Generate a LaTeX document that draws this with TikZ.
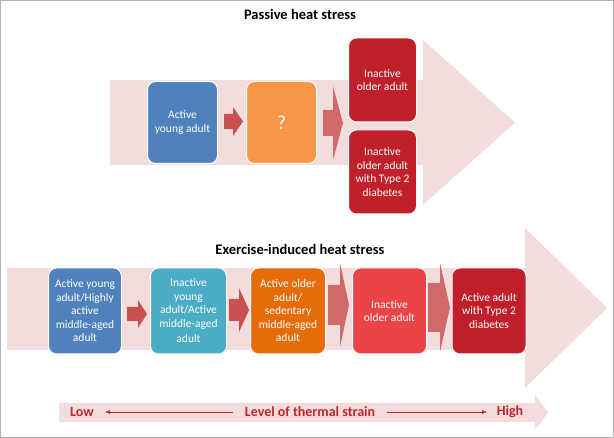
\documentclass[tikz,border=0pt]{standalone}
\usepackage{fontspec}
\setmainfont{Carlito}
\usetikzlibrary{arrows.meta, positioning}
\definecolor{band}{RGB}{242,220,220}
\definecolor{blk}{RGB}{200,80,80}
\definecolor{cblue}{RGB}{79,129,189}
\definecolor{corange}{RGB}{247,150,70}
\definecolor{cred}{RGB}{192,32,42}
\definecolor{cteal}{RGB}{75,172,198}
\definecolor{cdorange}{RGB}{228,108,10}
\definecolor{clred}{RGB}{234,67,72}
\definecolor{txtred}{RGB}{192,39,45}
% block arrow: x start, x head, x tip, shaft top, shaft bottom, head top, head bottom
\newcommand{\blockarrow}[8][band]{%
  \fill[#1] (#2,#5) -- (#3,#5) -- (#3,#7) -- (#4,{(#7+#8)/2}) -- (#3,#8) -- (#3,#6) -- (#2,#6) -- cycle;}

\begin{document}
\begin{tikzpicture}[x=1pt, y=-1pt,
    box/.style={draw=white, line width=1pt, rounded corners=8pt, text=white,
      align=center, font=\fontsize{11.5}{13.5}\selectfont, inner sep=1pt},
    title/.style={font=\bfseries\fontsize{14.5}{16}\selectfont},
    strain/.style={text=txtred, font=\bfseries\fontsize{14}{16}\selectfont}
    ]
    \useasboundingbox (0,0) rectangle (614,438);
    \draw[gray!60] (0.5,0.5) rectangle (613.5,437.5);

    % passive heat stress
    \node[title] (ptitle) at (300,14) {Passive heat stress};
    \blockarrow{110}{423}{515}{80}{165}{40}{205}
    \blockarrow[blk]{224}{233}{243}{114}{129}{107}{136}
    \blockarrow[blk!85]{323}{333}{343}{110}{136}{86}{160}
    \node[box, fill=cblue, minimum width=70pt, minimum height=82pt] (pyoung) at (182.5,122.5) {Active\\young adult};
    \node[box, fill=corange, minimum width=70pt, minimum height=82pt, font=\fontsize{20}{22}\selectfont] (punknown) at (281.5,122.5) {?};
    \node[box, fill=cred, minimum width=68pt, minimum height=84pt] (pold) at (382.5,80) {Inactive\\older adult};
    \node[box, fill=cred, minimum width=68pt, minimum height=84pt] (pdiab) at (382.5,172) {Inactive\\older adult\\with Type 2\\diabetes};

    % exercise-induced heat stress
    \node[title] (etitle) at (300,249) {Exercise-induced heat stress};
    \blockarrow{7}{525}{607}{268}{350}{228}{388}
    \blockarrow[blk]{127}{138}{147}{307}{321}{300}{328}
    \blockarrow[blk]{229}{239}{249}{299}{321}{288}{332}
    \blockarrow[blk!85]{328}{340}{349}{285}{325}{263}{347}
    \blockarrow[blk!85]{428}{440}{450}{283}{332}{263}{352}
    \node[box, fill=cblue, minimum width=73pt, minimum height=86pt] (eyoung) at (85,311) {Active young\\adult/Highly\\active\\middle-aged\\adult};
    \node[box, fill=cteal, minimum width=76pt, minimum height=86pt] (einactive) at (188.5,311) {Inactive\\young\\adult/Active\\middle-aged\\[2pt]adult};
    \node[box, fill=cdorange, minimum width=75pt, minimum height=86pt] (eolder) at (288,311) {Active older\\adult/\\sedentary\\middle-aged\\adult};
    \node[box, fill=clred, minimum width=74pt, minimum height=86pt] (eiold) at (389.5,311) {Inactive\\older adult};
    \node[box, fill=cred, minimum width=74pt, minimum height=86pt] (ediab) at (489,311) {Active adult\\with Type 2\\diabetes};

    % level of thermal strain
    \blockarrow{59}{535}{548}{403}{422}{395}{430}
    \node[strain] (low) at (82,412) {Low};
    \node[strain] (level) at (310,412) {Level of thermal strain};
    \node[strain] (high) at (510,412) {High};
    \draw[txtred, -{Latex[length=5pt]}] (level.west) ++(-8,0) coordinate (lstart) -- (105,412) coordinate (lend);
    \draw[txtred, -{Latex[length=5pt]}] (level.east) ++(8,0) coordinate (rstart) -- (487,412) coordinate (rend);
\end{tikzpicture}
\end{document}
